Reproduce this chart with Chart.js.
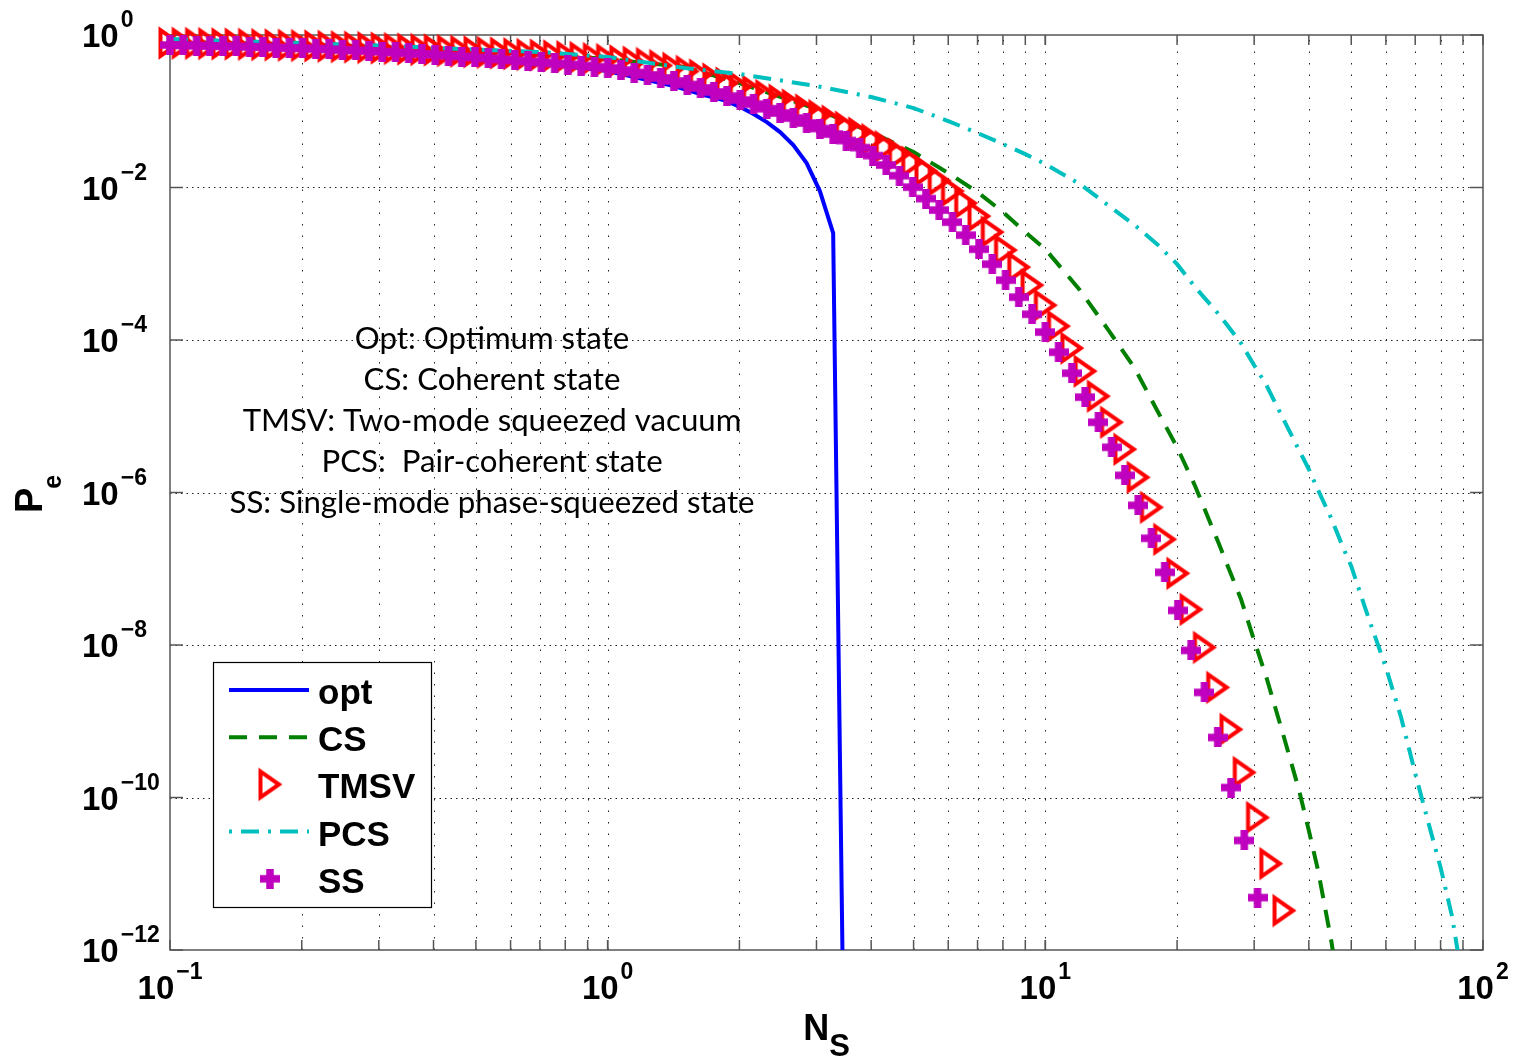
<!DOCTYPE html>
<html>
<head>
<meta charset="utf-8">
<title>Pe vs Ns</title>
<script src="https://cdn.jsdelivr.net/npm/chart.js@4.4.1/dist/chart.umd.min.js"></script>
<style>
  html, body { margin: 0; padding: 0; background: #fff; }
  canvas { display: block; }
</style>
</head>
<body>
<canvas id="peChart" width="1529" height="1059"></canvas>
<script>
// sample grid of the marker series (N_S)
const NS = [
  0.1, 0.1072, 0.115, 0.1233, 0.1322, 0.1417, 0.152, 0.163, 0.1748, 0.1874,
  0.2009, 0.2154, 0.231, 0.2477, 0.2656, 0.2848, 0.3054, 0.3275, 0.3511, 0.3765,
  0.4037, 0.4329, 0.4642, 0.4977, 0.5337, 0.5722, 0.6136, 0.6579, 0.7055, 0.7565,
  0.8111, 0.8697, 0.9326, 1, 1.072, 1.15, 1.233, 1.322, 1.417, 1.52,
  1.63, 1.748, 1.874, 2.009, 2.154, 2.31, 2.477, 2.656, 2.848, 3.054,
  3.275, 3.511, 3.765, 4.037, 4.329, 4.642, 4.977, 5.337, 5.722, 6.136,
  6.579, 7.055, 7.565, 8.111, 8.697, 9.326, 10, 10.72, 11.5, 12.33,
  13.22, 14.17, 15.2, 16.3, 17.48, 18.74, 20.09, 21.54, 23.1, 24.77,
  26.56, 28.48, 30.54, 32.75, 35.11
];

const tmsvPe = [
  0.785, 0.780, 0.776, 0.771, 0.766, 0.762, 0.755, 0.748, 0.742, 0.735,
  0.728, 0.719, 0.711, 0.702, 0.694, 0.685, 0.675, 0.665, 0.655, 0.645,
  0.636, 0.624, 0.613, 0.602, 0.591, 0.580, 0.568, 0.556, 0.545, 0.533,
  0.521, 0.507, 0.491, 0.476, 0.458, 0.441, 0.423, 0.398, 0.367, 0.334,
  0.299, 0.265, 0.234, 0.208, 0.184, 0.161, 0.140, 0.121, 0.104, 0.0878,
  0.0744, 0.0620, 0.0518, 0.0425, 0.0344, 0.0274, 0.0215, 0.0164, 0.0123, 0.00897,
  0.00624, 0.00421, 0.00260, 0.00151, 9.02e-4, 5.24e-4, 2.86e-4, 1.52e-4, 7.81e-5, 3.90e-5,
  1.83e-5, 8.34e-6, 3.69e-6, 1.58e-6, 6.39e-7, 2.43e-7, 8.70e-8, 2.93e-8, 9.30e-9, 2.78e-9,
  7.81e-10, 2.13e-10, 5.46e-11, 1.36e-11, 3.29e-12
];

const ssPe = [
  0.739, 0.732, 0.726, 0.719, 0.713, 0.707, 0.700, 0.694, 0.685, 0.677,
  0.669, 0.659, 0.649, 0.639, 0.628, 0.617, 0.604, 0.591, 0.577, 0.563,
  0.550, 0.535, 0.521, 0.507, 0.493, 0.478, 0.464, 0.450, 0.437, 0.424,
  0.410, 0.397, 0.383, 0.369, 0.347, 0.322, 0.299, 0.273, 0.249, 0.224,
  0.202, 0.179, 0.158, 0.140, 0.124, 0.108, 0.0947, 0.0814, 0.0700, 0.0593,
  0.0502, 0.0413, 0.0334, 0.0262, 0.0197, 0.0143, 0.0101, 0.00715, 0.00505, 0.00351,
  0.00237, 0.00155, 9.88e-4, 6.09e-4, 3.65e-4, 2.18e-4, 1.27e-4, 6.92e-5, 3.67e-5, 1.78e-5,
  8.34e-6, 3.92e-6, 1.68e-6, 6.79e-7, 2.51e-7, 8.97e-8, 2.84e-8, 8.49e-9, 2.39e-9, 6.13e-10,
  1.35e-10, 2.73e-11, 4.87e-12
];

const optNs = [0.1, 0.2009, 0.3054, 0.4977, 0.7055, 1, 1.417, 1.63, 1.874, 2.009,
  2.154, 2.31, 2.477, 2.656, 2.848, 3.054, 3.275, 3.511];
const optPe = [0.717, 0.655, 0.589, 0.499, 0.423, 0.337, 0.214, 0.168, 0.136, 0.1135,
  0.0919, 0.0722, 0.0533, 0.0360, 0.0209, 0.00897, 0.00252, 1e-16];

const csNs = [0.1, 0.2, 0.3, 0.5, 0.7, 1, 1.5, 2, 3, 4, 5, 6, 7, 8, 9, 10,
  12, 14, 16, 18, 20, 22, 25, 28, 30, 32, 35, 38, 40, 42, 45, 48];
const csPe = [0.809, 0.750, 0.696, 0.617, 0.555, 0.484, 0.380, 0.234, 0.107, 0.0533,
  0.0291, 0.0155, 0.00870, 0.00476, 0.00260, 0.00155, 4.50e-4, 1.30e-4, 4.26e-5, 1.20e-5,
  3.92e-6, 1.21e-6, 2.03e-7, 3.97e-8, 1.15e-8, 3.76e-9, 6.51e-10, 1.24e-10, 3.69e-11, 1.10e-11,
  1.33e-12, 1.34e-13];

const pcsNs = [0.1, 0.2, 0.3, 0.5, 0.7, 1, 1.5, 2, 3, 4, 5, 6, 7, 8, 9, 10,
  12, 14, 16, 18, 20, 22, 25, 28, 30, 32, 35, 38, 40, 42, 45, 48, 50,
  55, 60, 65, 70, 75, 80, 85, 90];
const pcsPe = [0.886, 0.785, 0.728, 0.645, 0.598, 0.514, 0.369, 0.308, 0.214, 0.154,
  0.110, 0.0744, 0.0518, 0.0371, 0.0274, 0.0203, 0.0111, 0.00570, 0.00321, 0.00181,
  9.88e-4, 4.93e-4, 2.12e-4, 9.08e-5, 4.67e-5, 2.55e-5, 9.13e-6, 3.58e-6, 2.02e-6, 1.07e-6,
  4.59e-7, 1.85e-7, 1.08e-7, 2.10e-8, 5.08e-9, 1.12e-9, 2.07e-10, 4.70e-11, 1.21e-11, 2.74e-12,
  3.62e-13];

// axis ticks
const xGridVals = [0.2, 0.3, 0.4, 0.5, 0.6, 0.7, 0.8, 0.9, 1, 2, 3, 4, 5, 6, 7, 8, 9,
  10, 20, 30, 40, 50, 60, 70, 80, 90];
const xDecades = [0.1, 1, 10, 100];
const xExpLabels = ['\u22121', '0', '1', '2'];
const yDecades = [1, 1e-2, 1e-4, 1e-6, 1e-8, 1e-10, 1e-12];
const yExpLabels = ['0', '\u22122', '\u22124', '\u22126', '\u22128', '\u221210', '\u221212'];

const noteLines = [
  'Opt: Optimum state',
  'CS: Coherent state',
  'TMSV: Two-mode squeezed vacuum',
  'PCS:  Pair-coherent state',
  'SS: Single-mode phase-squeezed state'
];

const HELV = '"Liberation Sans", Arial, Helvetica, sans-serif';

function toPoints(xs, ys) {
  return ys.map((v, i) => ({ x: xs[i], y: v }));
}

// right-pointing open triangle, like matlab '>'
function triangleMarker() {
  const c = document.createElement('canvas');
  c.width = 38; c.height = 38;
  const g = c.getContext('2d');
  g.strokeStyle = '#ff0000';
  g.lineWidth = 4;
  g.lineJoin = 'miter';
  g.beginPath();
  g.moveTo(19 - 9.5, 19 - 13);
  g.lineTo(19 - 9.5, 19 + 13);
  g.lineTo(19 + 9, 19);
  g.closePath();
  g.stroke();
  return c;
}

function plusMarker() {
  const c = document.createElement('canvas');
  c.width = 20; c.height = 20;
  const g = c.getContext('2d');
  g.fillStyle = '#bf00bf';
  g.fillRect(0, 6.25, 20, 7.5);
  g.fillRect(6.25, 0, 7.5, 20);
  return c;
}

function strokeLine(ctx, x1, y1, x2, y2) {
  ctx.beginPath();
  ctx.moveTo(x1, y1);
  ctx.lineTo(x2, y2);
  ctx.stroke();
}

// "10" with a raised exponent; cy is the middle of the digits
function drawPower(ctx, exp, x, cy, align) {
  const base = 'bold 33px ' + HELV;
  const sup = 'bold 23px ' + HELV;
  ctx.font = base;
  const wb = ctx.measureText('10').width;
  ctx.font = sup;
  const we = ctx.measureText(exp).width;
  const gap = 2;
  const left = align === 'center' ? x - (wb + gap + we) / 2 : x;
  ctx.textAlign = 'left';
  ctx.textBaseline = 'alphabetic';
  ctx.font = base;
  ctx.fillText('10', left, cy + 12);
  ctx.font = sup;
  ctx.fillText(exp, left + wb + gap, cy - 8);
}

const axesPlugin = {
  id: 'matlabAxes',
  beforeDraw(chart) {
    const ctx = chart.ctx;
    ctx.save();
    ctx.fillStyle = '#fff';
    ctx.fillRect(0, 0, chart.width, chart.height);
    ctx.restore();
  },
  beforeDatasetsDraw(chart) {
    const { ctx, chartArea: a, scales: { x, y } } = chart;
    ctx.save();
    // dotted grid
    ctx.strokeStyle = '#222';
    ctx.lineWidth = 1;
    ctx.setLineDash([1.5, 10]);
    xGridVals.forEach(v => {
      const px = Math.round(x.getPixelForValue(v)) + 0.5;
      strokeLine(ctx, px, a.bottom, px, a.top);
    });
    ctx.setLineDash([1.5, 4]);
    yDecades.slice(1, -1).forEach(v => {
      const py = Math.round(y.getPixelForValue(v)) + 0.5;
      strokeLine(ctx, a.left, py, a.right, py);
    });
    ctx.setLineDash([]);
    // box with inward ticks
    ctx.strokeStyle = '#555';
    ctx.lineWidth = 1.5;
    ctx.strokeRect(a.left, a.top, a.right - a.left, a.bottom - a.top);
    xDecades.concat(xGridVals).forEach(v => {
      const px = x.getPixelForValue(v);
      strokeLine(ctx, px, a.bottom, px, a.bottom - 10);
      strokeLine(ctx, px, a.top, px, a.top + 10);
    });
    yDecades.forEach(v => {
      const py = y.getPixelForValue(v);
      strokeLine(ctx, a.left, py, a.left + 13, py);
      strokeLine(ctx, a.right, py, a.right - 13, py);
    });
    ctx.restore();
  },
  afterDatasetsDraw(chart) {
    const { ctx, chartArea: a, scales: { x, y } } = chart;
    ctx.save();
    ctx.fillStyle = '#000';

    yDecades.forEach((v, i) => drawPower(ctx, yExpLabels[i], 82, y.getPixelForValue(v), 'left'));
    xDecades.forEach((v, i) => drawPower(ctx, xExpLabels[i], x.getPixelForValue(v), a.bottom + 37, 'center'));

    // axis titles
    ctx.textAlign = 'left';
    ctx.textBaseline = 'alphabetic';
    ctx.font = 'bold 36px ' + HELV;
    const wN = ctx.measureText('N').width;
    ctx.font = 'bold 31px ' + HELV;
    const wS = ctx.measureText('S').width;
    const nx = (a.left + a.right) / 2 - (wN + wS) / 2;
    ctx.font = 'bold 36px ' + HELV;
    ctx.fillText('N', nx, 1040);
    ctx.font = 'bold 31px ' + HELV;
    ctx.fillText('S', nx + wN, 1056);

    ctx.save();
    ctx.translate(42, 513);
    ctx.rotate(-Math.PI / 2);
    ctx.font = 'bold 38px ' + HELV;
    ctx.fillText('P', 0, 0);
    const wP = ctx.measureText('P').width;
    ctx.font = 'bold 25px ' + HELV;
    ctx.fillText('e', wP - 1, 19);
    ctx.restore();

    // note text
    ctx.font = '30px Lato, "Open Sans", sans-serif';
    const sx = 525 / ctx.measureText(noteLines[4]).width;
    ctx.textAlign = 'center';
    noteLines.forEach((t, i) => {
      ctx.save();
      ctx.translate(492, 349 + 41 * i);
      ctx.scale(sx, 1);
      ctx.fillText(t, 0, 0);
      ctx.restore();
    });

    // legend box
    ctx.fillStyle = '#fff';
    ctx.fillRect(213, 662, 218, 245);
    ctx.strokeStyle = '#000';
    ctx.lineWidth = 1.2;
    ctx.strokeRect(213.5, 662.5, 218, 245);
    chart.data.datasets.forEach((ds, i) => {
      const cy = 690 + 47.2 * i;
      if (ds.showLine) {
        ctx.strokeStyle = ds.borderColor;
        ctx.lineWidth = ds.borderWidth;
        const dash = ds.borderDash || [];
        ctx.setLineDash(dash);
        ctx.lineDashOffset = dash.length === 4 ? dash[0] + dash[1] : 0;
        strokeLine(ctx, 229, cy, 309, cy);
        ctx.setLineDash([]);
        ctx.lineDashOffset = 0;
      } else {
        const img = ds.pointStyle;
        ctx.drawImage(img, 270 - img.width / 2, cy - img.height / 2);
      }
      ctx.fillStyle = '#000';
      ctx.textAlign = 'left';
      ctx.font = 'bold 35px ' + HELV;
      ctx.fillText(ds.label, 318, cy + 14);
    });
    ctx.restore();
  }
};

const canvas = document.getElementById('peChart');

new Chart(canvas, {
  type: 'scatter',
  data: {
    datasets: [
      {
        label: 'opt',
        data: toPoints(optNs, optPe),
        showLine: true,
        borderColor: '#0000ff',
        borderWidth: 4,
        pointRadius: 0,
        tension: 0,
        clip: 0,
        order: 5
      },
      {
        label: 'CS',
        data: toPoints(csNs, csPe),
        showLine: true,
        borderColor: '#007f00',
        borderWidth: 4,
        borderDash: [18, 12],
        pointRadius: 0,
        tension: 0,
        clip: 0,
        order: 4
      },
      {
        label: 'TMSV',
        data: toPoints(NS, tmsvPe),
        showLine: false,
        pointStyle: triangleMarker(),
        pointRadius: 11,
        clip: false,
        order: 3
      },
      {
        label: 'PCS',
        data: toPoints(pcsNs, pcsPe),
        showLine: true,
        borderColor: '#00bfbf',
        borderWidth: 4,
        borderDash: [18, 9, 3, 9],
        pointRadius: 0,
        tension: 0,
        clip: 0,
        order: 2
      },
      {
        label: 'SS',
        data: toPoints(NS, ssPe),
        showLine: false,
        pointStyle: plusMarker(),
        pointRadius: 10,
        clip: false,
        order: 1
      }
    ]
  },
  options: {
    responsive: false,
    animation: false,
    events: [],
    layout: { padding: { left: 170, right: 46, top: 35, bottom: 109 } },
    scales: {
      x: { type: 'logarithmic', min: 0.1, max: 100, display: false },
      y: { type: 'logarithmic', min: 1e-12, max: 1, display: false }
    },
    plugins: {
      legend: { display: false },
      tooltip: { enabled: false }
    }
  },
  plugins: [axesPlugin]
});
</script>
</body>
</html>
